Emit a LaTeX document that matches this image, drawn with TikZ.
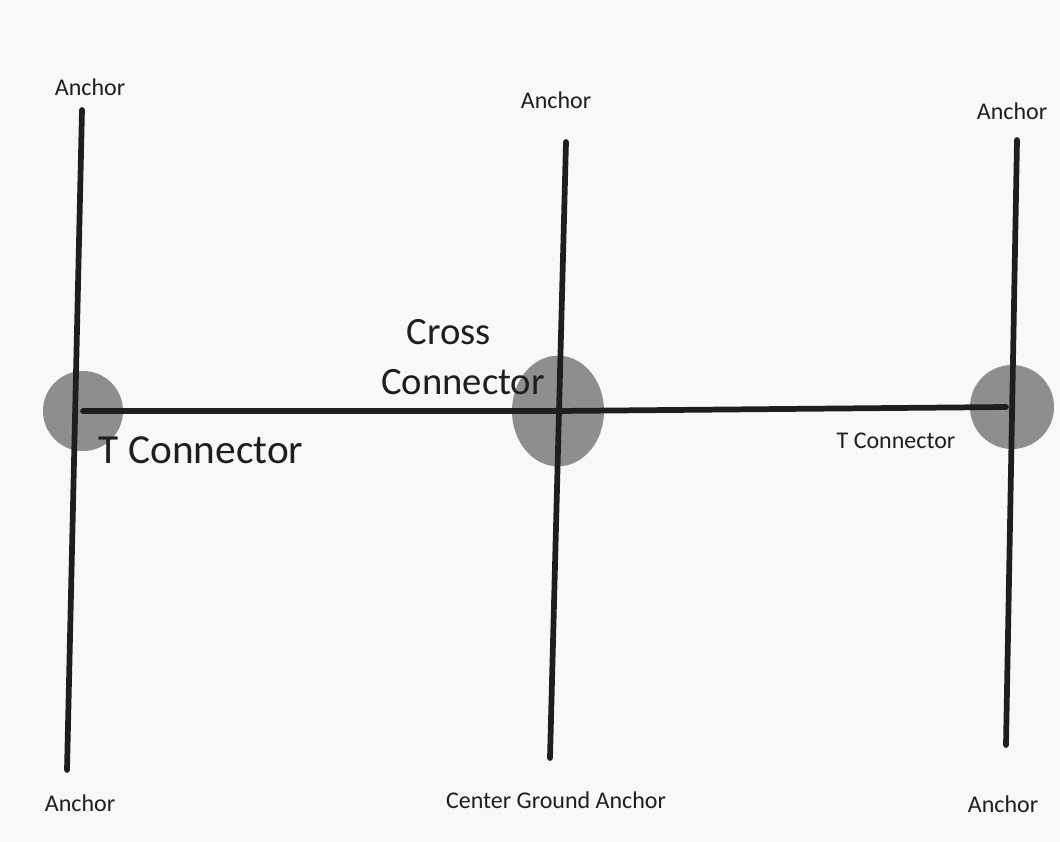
\documentclass[tikz,border=0pt]{standalone}
\usepackage{fontspec}
\setmainfont{Carlito}
\usetikzlibrary{shapes.geometric}
\definecolor{paper}{HTML}{F8F8F6}
\definecolor{ink}{HTML}{1E1E1E}
\definecolor{disc}{HTML}{8E8E8E}
\begin{document}
\begin{tikzpicture}[x=0.75pt,y=-0.75pt,
  rod/.style={draw=ink,line width=4.3pt,line cap=round},
  joint/.style={fill=disc,draw=none,inner sep=0pt},
  smalllabel/.style={text=ink,font=\fontsize{18}{20}\selectfont,inner sep=0pt},
  biglabel/.style={text=ink,font=\fontsize{29}{33}\selectfont,inner sep=0pt}]
\useasboundingbox[fill=paper] (0,0) rectangle (1060,842);
% connector discs
\node[joint,circle,minimum size=60pt] (tleft) at (83,411) {};
\node[joint,ellipse,minimum width=69pt,minimum height=83pt] (cross) at (558,411) {};
\node[joint,circle,minimum size=63pt] (tright) at (1012,407) {};
% rod end points
\coordinate (lt) at (82,110);
\coordinate (lb) at (67,770);
\coordinate (mt) at (566,142);
\coordinate (mb) at (550,758);
\coordinate (rt) at (1017,140);
\coordinate (rb) at (1006,745);
% rods
\draw[rod] (lt) -- (lb);
\draw[rod] (mt) -- (mb);
\draw[rod] (rt) -- (rb);
\draw[rod] (tleft.center) -- (cross.center) -- (1006,407);
% labels
\node[smalllabel] (a1) at (90,87) {Anchor};
\node[smalllabel] (a2) at (556,100) {Anchor};
\node[smalllabel] (a3) at (1012,111) {Anchor};
\node[smalllabel] (a4) at (80,803) {Anchor};
\node[smalllabel] (a5) at (556,800) {Center Ground Anchor};
\node[smalllabel] (a6) at (1003,804) {Anchor};
\node[biglabel] (c1) at (449,332) {Cross};
\node[biglabel] (c2) at (463,382) {Connector};
\node[biglabel,font=\fontsize{31}{35}\selectfont] (t1) at (201,450) {T Connector};
\node[smalllabel] (t2) at (896,441) {T Connector};
\end{tikzpicture}
\end{document}
